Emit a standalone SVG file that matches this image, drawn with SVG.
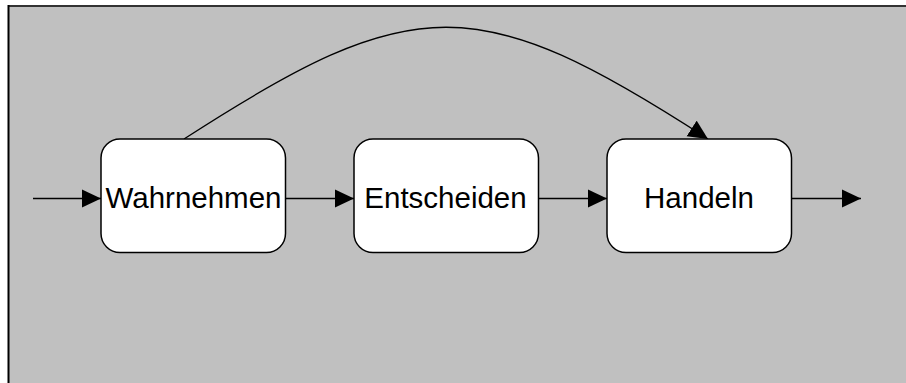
<svg xmlns="http://www.w3.org/2000/svg" width="906" height="383" viewBox="0 0 906 383">
  <defs>
    <marker id="arrow" markerUnits="userSpaceOnUse" markerWidth="21" markerHeight="19" refX="19.5" refY="9.25" orient="auto">
      <path d="M0,0 L19.5,9.25 L0,18.5 Z" fill="#000"/>
    </marker>
    <style>
      .node rect { fill: #ffffff; stroke: #000000; stroke-width: 1.5; }
      .node text { font-family: "Liberation Sans", Arial, sans-serif; font-size: 29.5px; fill: #000000; text-anchor: middle; }
      .edge { fill: none; stroke: #000000; stroke-width: 1.3; marker-end: url(#arrow); }
    </style>
  </defs>

  <!-- canvas background with top/left frame -->
  <rect x="0" y="0" width="906" height="383" fill="#ffffff"/>
  <rect x="9" y="6.5" width="900" height="380" fill="#c0c0c0"/>
  <line x1="8" y1="6" x2="906" y2="6" stroke="#333333" stroke-width="2"/>
  <line x1="8.5" y1="5" x2="8.5" y2="383" stroke="#000000" stroke-width="2"/>

  <g id="connectors">
    <path class="edge" d="M33,198.5 H101"/>
    <path class="edge" d="M285.5,198.5 H354"/>
    <path class="edge" d="M538.5,198.5 H607"/>
    <path class="edge" d="M791.5,198.5 H861"/>
    <path class="edge" d="M184,139 C414,-10 478,-10 708,139"/>
  </g>

  <g id="wahrnehmen" class="node">
    <rect x="101" y="139" width="184.5" height="113.5" rx="19" ry="19"/>
    <text x="193.5" y="207.5">Wahrnehmen</text>
  </g>
  <g id="entscheiden" class="node">
    <rect x="354" y="139" width="184.5" height="113.5" rx="19" ry="19"/>
    <text x="445.5" y="207.5">Entscheiden</text>
  </g>
  <g id="handeln" class="node">
    <rect x="607" y="139" width="184.5" height="113.5" rx="19" ry="19"/>
    <text x="699" y="207.5">Handeln</text>
  </g>
</svg>
